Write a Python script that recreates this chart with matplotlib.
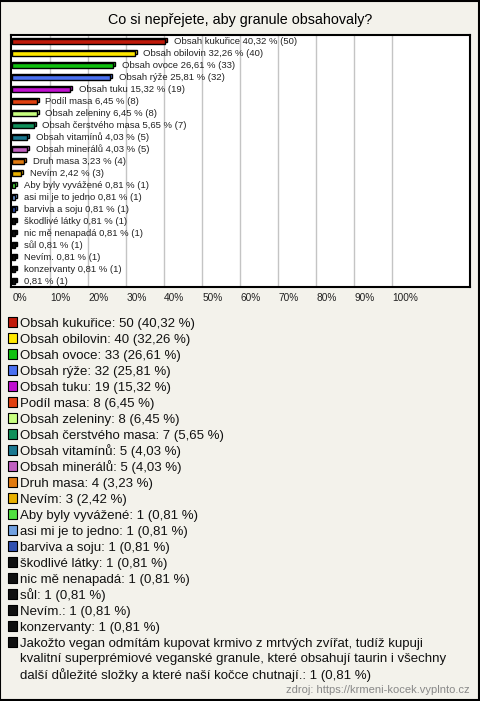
import textwrap

import matplotlib
matplotlib.use("Agg")
import matplotlib.pyplot as plt
from matplotlib.patches import Rectangle

plt.rcParams["font.family"] = ["Liberation Sans", "DejaVu Sans"]

TITLE = "Co si nepřejete, aby granule obsahovaly?"
SOURCE = "zdroj: https://krmeni-kocek.vyplnto.cz"

names = [
    "Obsah kukuřice", "Obsah obilovin", "Obsah ovoce", "Obsah rýže", "Obsah tuku",
    "Podíl masa", "Obsah zeleniny", "Obsah čerstvého masa", "Obsah vitamínů",
    "Obsah minerálů", "Druh masa", "Nevím", "Aby byly vyvážené", "asi mi je to jedno",
    "barviva a soju", "škodlivé látky", "nic mě nenapadá", "sůl", "Nevím.", "konzervanty",
    "Jakožto vegan odmítám kupovat krmivo z mrtvých zvířat, tudíž kupuji kvalitní "
    "superprémiové veganské granule, které obsahují taurin i všechny další důležité "
    "složky a které naší kočce chutnají.",
]
counts = [50, 40, 33, 32, 19, 8, 8, 7, 5, 5, 4, 3, 1, 1, 1, 1, 1, 1, 1, 1, 1]
percents = [40.32, 32.26, 26.61, 25.81, 15.32, 6.45, 6.45, 5.65, 4.03, 4.03, 3.23,
            2.42, 0.81, 0.81, 0.81, 0.81, 0.81, 0.81, 0.81, 0.81, 0.81]
# the long answer gets no label inside the chart
bar_names = names[:-1] + [""]
colors = [
    "#c01a0a", "#ffe800", "#10c010", "#4a70f0", "#c010d0", "#e04010", "#c8ff80",
    "#10905a", "#1a7890", "#c060c0", "#e07a10", "#e8b000", "#50e040", "#70a0e0",
    "#3050b0", "#101010", "#101010", "#101010", "#101010", "#101010", "#101010",
]
x_ticks = list(range(0, 101, 10))


def cz(v):
    return f"{v:.2f}".replace(".", ",")


W, H = 480, 701
fig = plt.figure(figsize=(W / 100, H / 100), dpi=100)
fig.patch.set_facecolor("#f3f2eb")
fig.patches.append(Rectangle((0.001, 0.001), 0.997, 0.997, transform=fig.transFigure,
                             fill=False, edgecolor="black", linewidth=1.5))

fig.text(0.5, 1 - 20 / H, TITLE, ha="center", va="center", fontsize=10.3)

# --- bar chart ---
ax = fig.add_axes([11 / W, 1 - 287 / H, 459 / W, 252 / H])
ax.set_facecolor("white")
n = len(percents)
ypos = list(range(n))
ax.set_xlim(-0.3, 120.5)
ax.set_ylim(n - 0.5, -0.5)
for gx in x_ticks[1:]:
    ax.axvline(gx, color="#c4c4c4", linewidth=1, zorder=0)

# 3D-ish bars: back face shifted up/right, then front face
ax.barh([y - 0.1 for y in ypos], [p + 0.5 for p in percents], height=0.36,
        color=colors, edgecolor="black", linewidth=1, zorder=2)
ax.barh([y + 0.05 for y in ypos], percents, height=0.36,
        color=colors, edgecolor="black", linewidth=1, zorder=3)

for y, p, c, nm in zip(ypos, percents, counts, bar_names):
    lbl = f"{nm} {cz(p)} % ({c})".strip()
    ax.text(p + 2.3, y, lbl, ha="left", va="center", fontsize=6.8, color="#222", zorder=4)

ax.set_xticks([])
ax.set_yticks([])
for s in ax.spines.values():
    s.set_linewidth(1.5)
    s.set_color("black")

for t in x_ticks:
    ax.text(t, n - 0.5 + 0.95, f"{t}%", ha="left", va="center", fontsize=7.3,
            color="#222", clip_on=False)

# --- legend below ---
leg = fig.add_axes([0, 1 - (314 + 21 * 16) / H, 1, 21 * 16 / H])
leg.set_xlim(0, W)
leg.set_ylim(n - 0.5, -0.5)
leg.axis("off")
leg.scatter([12.5] * n, ypos, marker="s", s=42, c=colors, edgecolors="black",
            linewidths=0.8, zorder=3)
for y, nm, c, p in zip(ypos, names, counts, percents):
    lines = textwrap.wrap(f"{nm}: {c} ({cz(p)} %)", width=72)
    for k, line in enumerate(lines):
        leg.text(20, y + k * 0.97, line, ha="left", va="center_baseline", fontsize=9.5,
                 color="#111", clip_on=False)

fig.text(470 / W, 1 - 690 / H, SOURCE, ha="right", va="center", fontsize=8,
         color="#888888")

fig.savefig("out.png", dpi=100, facecolor=fig.get_facecolor())
